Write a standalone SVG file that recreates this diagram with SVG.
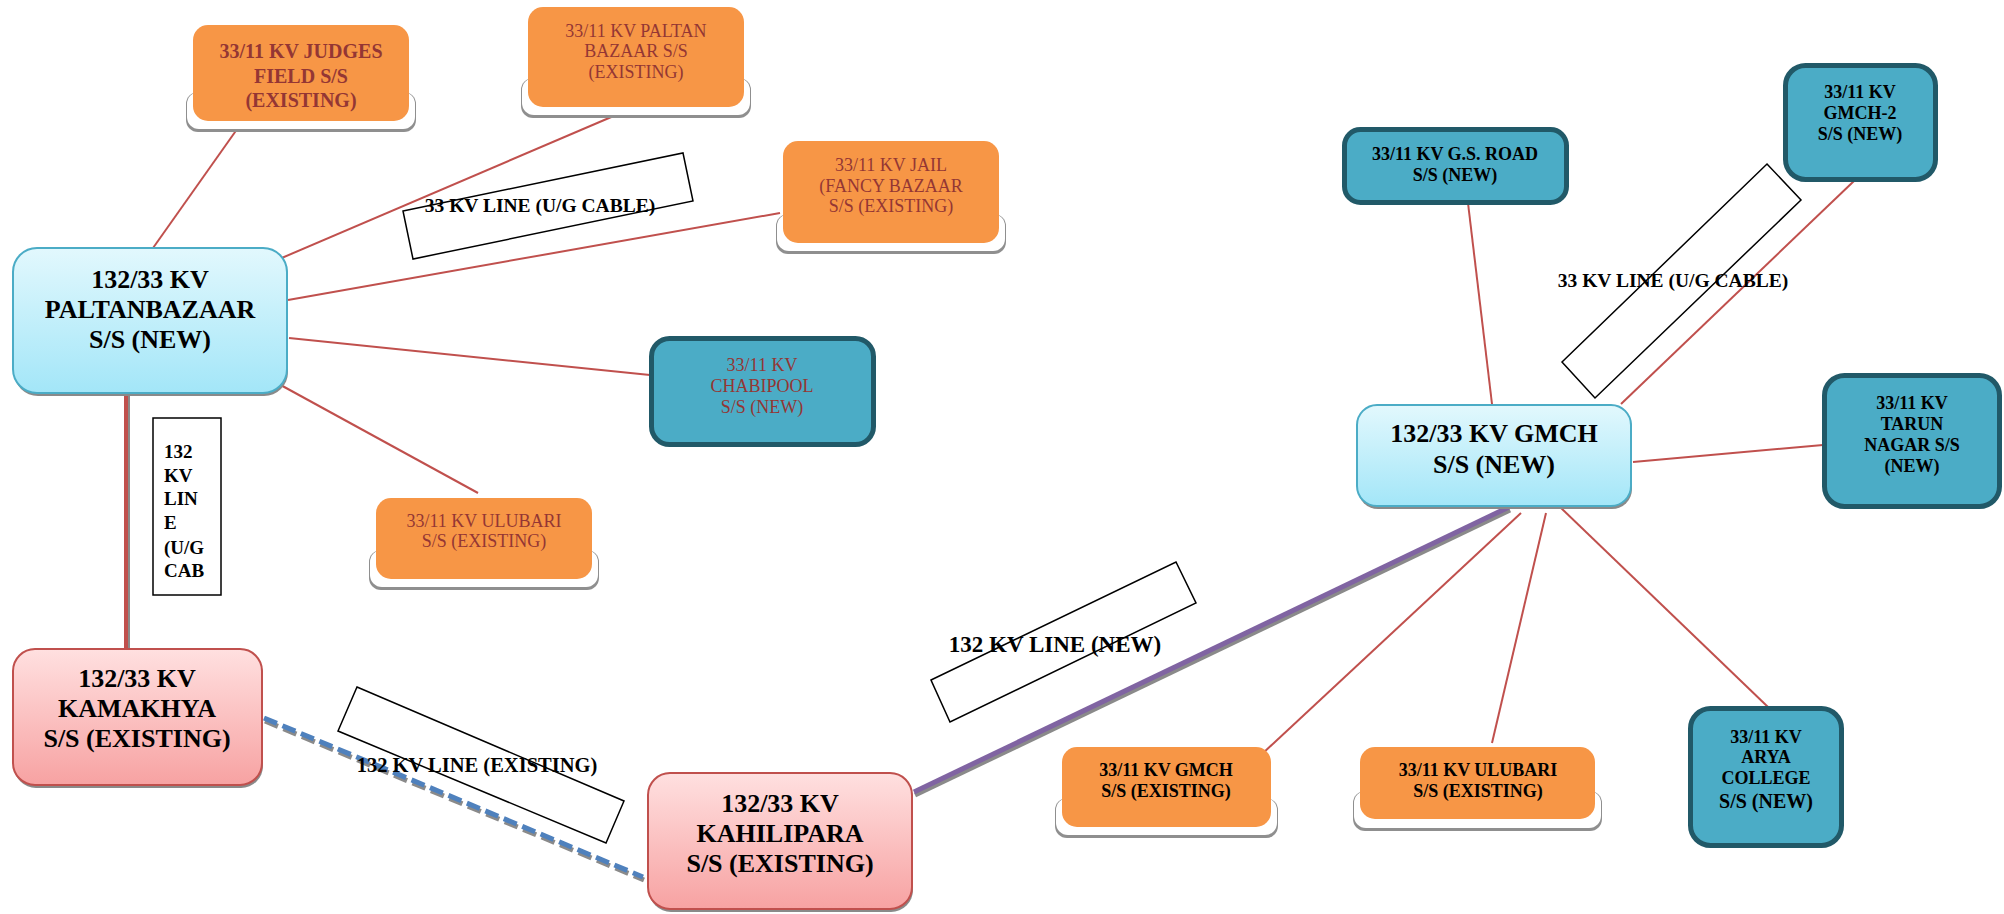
<svg xmlns="http://www.w3.org/2000/svg" width="2004" height="914" viewBox="0 0 2004 914">
<defs>
<linearGradient id="gCyan" x1="0" y1="0" x2="0" y2="1">
<stop offset="0" stop-color="#E2F8FD"/><stop offset="1" stop-color="#A3E6F8"/>
</linearGradient>
<linearGradient id="gPink" x1="0" y1="0" x2="0" y2="1">
<stop offset="0" stop-color="#FFE0E0"/><stop offset="1" stop-color="#F7A2A2"/>
</linearGradient>
</defs>
<style>
.orange{fill:#F79646;}
.oshadow{fill:#8f8f8f;}
.owhite{fill:#ffffff;}
.teal{fill:#4BACC6;stroke:#215968;stroke-width:5;}
.cyan{fill:url(#gCyan);stroke:#4BACC6;stroke-width:2;}
.pink{fill:url(#gPink);stroke:#C0504D;stroke-width:2;}
.bshadow{fill:#8a8a8a;}
.red{stroke:#C0504D;stroke-width:2;fill:none;}
.lbl{fill:none;stroke:#000;stroke-width:1.5;}
text{font-family:"Liberation Serif","Times New Roman",serif;text-anchor:middle;}
.tr{font-size:18px;fill:#943634;}
.tb{font-size:18px;font-weight:bold;fill:#000;}
.tbig{font-size:26px;font-weight:bold;fill:#000;}
.tl{font-size:19.5px;font-weight:bold;fill:#000;}
</style>
<rect width="2004" height="914" fill="#ffffff"/>

<g id="connectors">
<line class="red" x1="240" y1="125" x2="153" y2="248"/>
<line class="red" x1="623" y1="112" x2="277" y2="260"/>
<line class="red" x1="780" y1="213" x2="288" y2="300"/>
<line class="red" x1="289" y1="338" x2="650" y2="375"/>
<line class="red" x1="277" y1="383" x2="478" y2="493"/>
<line x1="128" y1="395" x2="128" y2="650" stroke="#8a8a8a" stroke-width="4"/>
<line x1="126" y1="394" x2="126" y2="650" stroke="#C0504D" stroke-width="4"/>
<line x1="265" y1="721" x2="644" y2="880" stroke="#8a8a8a" stroke-width="5" stroke-dasharray="14 6"/>
<line x1="264" y1="718" x2="643" y2="877" stroke="#4F81BD" stroke-width="5" stroke-dasharray="14 6"/>
<line x1="915" y1="795" x2="1510" y2="510" stroke="#8a8a8a" stroke-width="5"/>
<line x1="914" y1="792" x2="1509" y2="507" stroke="#8064A2" stroke-width="5"/>
<line class="red" x1="1468" y1="203" x2="1492" y2="404"/>
<line class="red" x1="1854" y1="181" x2="1621" y2="404"/>
<line class="red" x1="1633" y1="462" x2="1823" y2="445"/>
<line class="red" x1="1521" y1="513" x2="1262" y2="754"/>
<line class="red" x1="1546" y1="513" x2="1492" y2="743"/>
<line class="red" x1="1560" y1="507" x2="1768" y2="707"/>
</g>

<g id="judges-field">
<rect class="oshadow" x="186" y="92" width="230" height="40" rx="12"/>
<rect class="owhite" x="187" y="92" width="228" height="37" rx="12"/>
<rect class="orange" x="193" y="25" width="216" height="96" rx="15"/>
<text x="301" y="58" style="font-size:20px;font-weight:bold;fill:#943634">33/11 KV JUDGES</text>
<text x="301" y="83" style="font-size:20px;font-weight:bold;fill:#943634">FIELD S/S</text>
<text x="301" y="107" style="font-size:20px;font-weight:bold;fill:#943634">(EXISTING)</text>
</g>

<g id="paltan-bazaar-ss">
<rect class="oshadow" x="521" y="78" width="230" height="40" rx="12"/>
<rect class="owhite" x="522" y="78" width="228" height="37" rx="12"/>
<rect class="orange" x="528" y="7" width="216" height="100" rx="15"/>
<text class="tr" x="636" y="37">33/11 KV PALTAN</text>
<text class="tr" x="636" y="57">BAZAAR S/S</text>
<text class="tr" x="636" y="78">(EXISTING)</text>
</g>

<g id="jail">
<rect class="oshadow" x="776" y="214" width="230" height="40" rx="12"/>
<rect class="owhite" x="777" y="214" width="228" height="37" rx="12"/>
<rect class="orange" x="783" y="141" width="216" height="102" rx="15"/>
<text class="tr" x="891" y="171">33/11 KV JAIL</text>
<text class="tr" x="891" y="192">(FANCY BAZAAR</text>
<text class="tr" x="891" y="212">S/S (EXISTING)</text>
</g>

<g id="chabipool">
<rect class="teal" x="651.5" y="338.5" width="222" height="106" rx="18"/>
<text class="tr" x="762" y="371">33/11 KV</text>
<text class="tr" x="762" y="392">CHABIPOOL</text>
<text class="tr" x="762" y="413">S/S (NEW)</text>
</g>

<g id="ulubari-left">
<rect class="oshadow" x="369" y="550" width="230" height="40" rx="12"/>
<rect class="owhite" x="370" y="550" width="228" height="37" rx="12"/>
<rect class="orange" x="376" y="498" width="216" height="81" rx="15"/>
<text class="tr" x="484" y="527">33/11 KV ULUBARI</text>
<text class="tr" x="484" y="547">S/S (EXISTING)</text>
</g>

<g id="paltanbazaar">
<rect class="bshadow" x="14" y="251" width="274" height="145" rx="24"/>
<rect class="cyan" x="13" y="248" width="274" height="145" rx="24"/>
<text class="tbig" x="150" y="288">132/33 KV</text>
<text class="tbig" x="150" y="318">PALTANBAZAAR</text>
<text class="tbig" x="150" y="348">S/S (NEW)</text>
</g>

<g id="kamakhya">
<rect class="bshadow" x="14" y="652" width="249" height="136" rx="22"/>
<rect class="pink" x="13" y="649" width="249" height="136" rx="22"/>
<text class="tbig" x="137" y="687">132/33 KV</text>
<text class="tbig" x="137" y="717">KAMAKHYA</text>
<text class="tbig" x="137" y="747">S/S (EXISTING)</text>
</g>

<g id="kahilipara">
<rect class="bshadow" x="649" y="776" width="264" height="136" rx="22"/>
<rect class="pink" x="648" y="773" width="264" height="136" rx="22"/>
<text class="tbig" x="780" y="812">132/33 KV</text>
<text class="tbig" x="780" y="842">KAHILIPARA</text>
<text class="tbig" x="780" y="872">S/S (EXISTING)</text>
</g>

<g id="gmch">
<rect class="bshadow" x="1358" y="408" width="274" height="101" rx="20"/>
<rect class="cyan" x="1357" y="405" width="274" height="101" rx="20"/>
<text class="tbig" x="1494" y="442">132/33 KV GMCH</text>
<text class="tbig" x="1494" y="473">S/S (NEW)</text>
</g>

<g id="gs-road">
<rect class="teal" x="1344.5" y="129.5" width="222" height="73" rx="16"/>
<text class="tb" x="1455" y="160">33/11 KV G.S. ROAD</text>
<text class="tb" x="1455" y="181">S/S (NEW)</text>
</g>

<g id="gmch-2">
<rect class="teal" x="1785.5" y="65.5" width="150" height="114" rx="20"/>
<text class="tb" x="1860" y="98">33/11 KV</text>
<text class="tb" x="1860" y="119">GMCH-2</text>
<text class="tb" x="1860" y="140">S/S (NEW)</text>
</g>

<g id="tarun-nagar">
<rect class="teal" x="1824.5" y="375.5" width="175" height="131" rx="20"/>
<text class="tb" x="1912" y="409">33/11 KV</text>
<text class="tb" x="1912" y="430">TARUN</text>
<text class="tb" x="1912" y="451">NAGAR S/S</text>
<text class="tb" x="1912" y="472">(NEW)</text>
</g>

<g id="gmch-existing">
<rect class="oshadow" x="1055" y="798" width="223" height="40" rx="12"/>
<rect class="owhite" x="1056" y="798" width="221" height="37" rx="12"/>
<rect class="orange" x="1062" y="747" width="209" height="80" rx="15"/>
<text class="tb" x="1166" y="776">33/11 KV GMCH</text>
<text class="tb" x="1166" y="797">S/S (EXISTING)</text>
</g>

<g id="ulubari-right">
<rect class="oshadow" x="1353" y="791" width="249" height="40" rx="12"/>
<rect class="owhite" x="1354" y="791" width="247" height="37" rx="12"/>
<rect class="orange" x="1360" y="747" width="235" height="72" rx="15"/>
<text class="tb" x="1478" y="776">33/11 KV ULUBARI</text>
<text class="tb" x="1478" y="797">S/S (EXISTING)</text>
</g>

<g id="arya-college">
<rect class="teal" x="1690.5" y="708.5" width="151" height="137" rx="20"/>
<text class="tb" x="1766" y="743">33/11 KV</text>
<text class="tb" x="1766" y="763">ARYA</text>
<text class="tb" x="1766" y="784">COLLEGE</text>
<text class="tb" x="1766" y="808" style="font-size:20px">S/S (NEW)</text>
</g>

<g id="labels">
<polygon class="lbl" points="403,211 683,153 693,201 413,259"/>
<text class="tl" x="540" y="212">33 KV LINE (U/G CABLE)</text>
<rect class="lbl" x="153" y="418" width="68" height="177"/>
<g style="text-anchor:start">
<text class="tl" x="164" y="458" style="text-anchor:start;font-size:19px">132</text>
<text class="tl" x="164" y="482" style="text-anchor:start;font-size:19px">KV</text>
<text class="tl" x="164" y="505" style="text-anchor:start;font-size:19px">LIN</text>
<text class="tl" x="164" y="529" style="text-anchor:start;font-size:19px">E</text>
<text class="tl" x="164" y="554" style="text-anchor:start;font-size:19px">(U/G</text>
<text class="tl" x="164" y="577" style="text-anchor:start;font-size:19px">CAB</text>
</g>
<polygon class="lbl" points="1767,164 1801,200 1595,398 1562,362"/>
<text class="tl" x="1673" y="287">33 KV LINE (U/G CABLE)</text>
<polygon class="lbl" points="931,680 1176,562 1196,603 950,722"/>
<text class="tl" x="1055" y="652" style="font-size:23px">132 KV LINE (NEW)</text>
<polygon class="lbl" points="357,687 624,801 606,843 338,731"/>
<text class="tl" x="477" y="772" style="font-size:20.5px">132 KV LINE (EXISTING)</text>
</g>
</svg>
